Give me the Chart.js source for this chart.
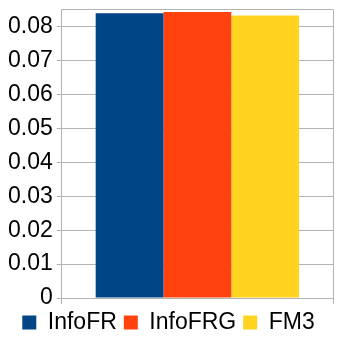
<!DOCTYPE html>
<html>
<head>
<meta charset="utf-8">
<script src="https://cdn.jsdelivr.net/npm/chart.js@4/dist/chart.umd.min.js"></script>
<style>
  html, body { margin: 0; padding: 0; background: #fff; }
  #wrap { width: 340px; height: 340px; }
</style>
</head>
<body>
<div id="wrap"><canvas id="barChart" width="340" height="340"></canvas></div>
<script>
const categories = [''];
const seriesNames = ['InfoFR', 'InfoFRG', 'FM3'];
const infoFR = [0.0840];
const infoFRG = [0.0843];
const fm3 = [0.0833];
const yTicks = [0, 0.01, 0.02, 0.03, 0.04, 0.05, 0.06, 0.07, 0.08];
const yMax = 0.085;

const colors = ['#004586', '#ff420e', '#ffd320'];
const gridColor = '#b3b3b3';
const font = { family: "'Liberation Sans', Arial, sans-serif", size: 23, lineHeight: 1 };
const tickFont = { family: "'Liberation Sans', Arial, sans-serif", size: 23, lineHeight: 0.5 };

new Chart(document.getElementById('barChart'), {
  type: 'bar',
  data: {
    labels: categories,
    datasets: [infoFR, infoFRG, fm3].map((d, i) => ({
      label: seriesNames[i],
      data: d,
      backgroundColor: colors[i],
      borderWidth: 0
    }))
  },
  options: {
    responsive: false,
    animation: false,
    layout: { padding: { top: 7, right: 7, left: 4, bottom: -4 } },
    datasets: { bar: { categoryPercentage: 0.75, barPercentage: 1 } },
    plugins: {
      tooltip: { enabled: false },
      legend: {
        position: 'bottom',
        labels: { boxWidth: 14, boxHeight: 14, padding: 7, color: '#000', font: font }
      }
    },
    scales: {
      x: {
        grid: { color: gridColor, offset: true, tickLength: 6, drawOnChartArea: true },
        border: { color: gridColor },
        ticks: { display: false }
      },
      y: {
        min: 0,
        max: yMax,
        afterBuildTicks: s => { s.ticks = yTicks.concat([yMax]).map(v => ({ value: v })); },
        grid: {
          color: gridColor,
          tickLength: 5,
          tickColor: c => (c.tick && c.tick.value === yMax) ? 'rgba(0,0,0,0)' : gridColor
        },
        border: { color: gridColor },
        ticks: {
          color: '#000',
          font: tickFont,
          padding: 4,
          autoSkip: false,
          callback: v => v === yMax ? '' : String(v)
        }
      }
    }
  }
});
</script>
</body>
</html>
